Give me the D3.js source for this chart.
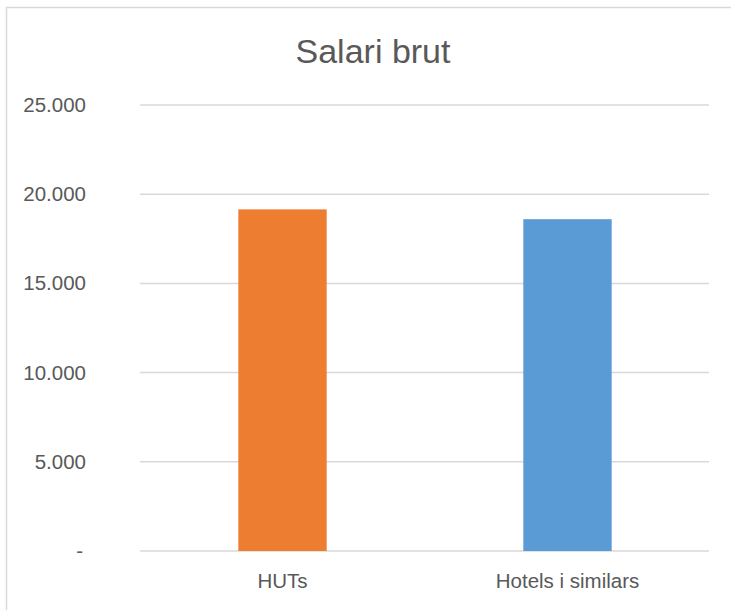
<!DOCTYPE html>
<html>
<head>
<meta charset="utf-8">
<script src="https://cdn.jsdelivr.net/npm/d3@7"></script>
<style>
  body { margin: 0; background: #fff; }
  text { font-family: "Liberation Sans", Arial, sans-serif; fill: #595959; }
</style>
</head>
<body>
<script>
'use strict';

// chart data
let categories = ["HUTs", "Hotels i similars"];
let values = [19150, 18600];
let barColors = ["#ED7D31", "#5B9BD5"];
let yTicks = [0, 5000, 10000, 15000, 20000, 25000];
let yTickLabels = ["-", "5.000", "10.000", "15.000", "20.000", "25.000"];
let title = "Salari brut";

let svg = d3.select("body")
  .append("svg")
  .attr("width", 731)
  .attr("height", 610);

// chart frame (only top and left edges fall inside the picture)
svg.append("rect")
  .attr("x", 6.5)
  .attr("y", 7.5)
  .attr("width", 900)
  .attr("height", 900)
  .attr("fill", "none")
  .attr("stroke", "#d9d9d9")
  .attr("stroke-width", 1.5);

let xScale = d3.scaleBand()
  .domain(categories)
  .range([140, 710])
  .paddingInner(0.69)
  .paddingOuter(0.345);

let yScale = d3.scaleLinear()
  .domain([0, 25000])
  .range([551, 105]);

// gridlines
svg.append("g")
  .selectAll("line")
  .data(yTicks)
  .enter()
  .append("line")
  .attr("x1", 140)
  .attr("x2", 709)
  .attr("y1", (d) => yScale(d))
  .attr("y2", (d) => yScale(d))
  .attr("stroke", "#d9d9d9")
  .attr("stroke-width", 1.5);

// y tick labels
svg.append("g")
  .selectAll("text")
  .data(yTicks)
  .enter()
  .append("text")
  .attr("x", (d, i) => i === 0 ? 83 : 86)
  .attr("y", (d) => yScale(d) + 7)
  .attr("text-anchor", "end")
  .style("font-size", "20.5px")
  .text((d, i) => yTickLabels[i]);

// bars
svg.append("g")
  .selectAll("rect")
  .data(values)
  .enter()
  .append("rect")
  .attr("x", (d, i) => xScale(categories[i]))
  .attr("y", (d) => yScale(d))
  .attr("width", xScale.bandwidth())
  .attr("height", (d) => yScale(0) - yScale(d))
  .attr("fill", (d, i) => barColors[i]);

// category labels
svg.append("g")
  .selectAll("text")
  .data(categories)
  .enter()
  .append("text")
  .attr("x", (d) => xScale(d) + xScale.bandwidth() / 2)
  .attr("y", 588)
  .attr("text-anchor", "middle")
  .style("font-size", "20.5px")
  .text((d) => d);

// title
svg.append("text")
  .attr("x", 373)
  .attr("y", 63)
  .attr("text-anchor", "middle")
  .style("font-size", "34px")
  .text(title);
</script>
</body>
</html>
